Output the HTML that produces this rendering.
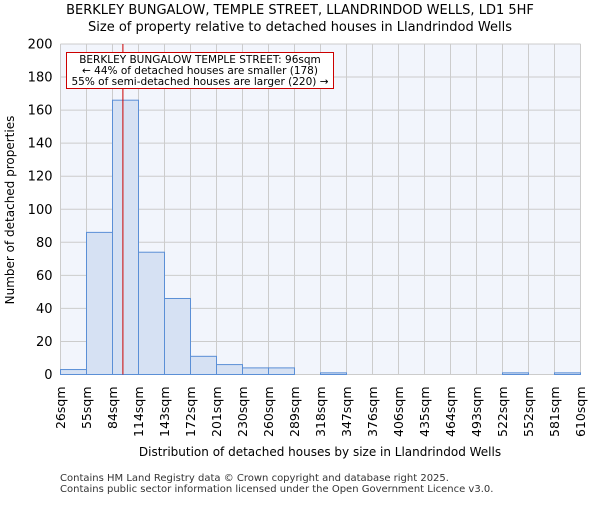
<!DOCTYPE html>
<html><head><meta charset="utf-8"><style>
body{margin:0;background:#fff;font-family:"Liberation Sans","DejaVu Sans",sans-serif}
svg text{font-family:"DejaVu Sans","Liberation Sans",sans-serif}
</style></head><body>
<svg id="c" width="600" height="500" xmlns="http://www.w3.org/2000/svg">
<text x="300" y="14" text-anchor="middle" font-size="13">BERKLEY BUNGALOW, TEMPLE STREET, LLANDRINDOD WELLS, LD1 5HF</text>
<text x="300" y="31" text-anchor="middle" font-size="13">Size of property relative to detached houses in Llandrindod Wells</text>
<rect x="60.5" y="44" width="520" height="330.5" fill="#f2f5fc"/>
<g id="grid"></g><g id="bars"></g><g id="axes"></g>
<text transform="translate(14,210) rotate(-90)" text-anchor="middle" font-size="12">Number of detached properties</text>
<text x="320" y="456" text-anchor="middle" font-size="12">Distribution of detached houses by size in Llandrindod Wells</text>
<text x="60" y="481" font-size="10" fill="#333">Contains HM Land Registry data © Crown copyright and database right 2025.</text>
<text x="60" y="492" font-size="10" fill="#333">Contains public sector information licensed under the Open Government Licence v3.0.</text>
</svg>
<script>
const tickLabels=["26sqm","55sqm","84sqm","114sqm","143sqm","172sqm","201sqm","230sqm","260sqm","289sqm","318sqm","347sqm","376sqm","406sqm","435sqm","464sqm","493sqm","522sqm","552sqm","581sqm","610sqm"];
const binEdges=[26,55,84,114,143,172,201,230,260,289,318,347,376,406,435,464,493,522,552,581,610];
const counts=[3,86,166,74,46,11,6,4,4,0,1,0,0,0,0,0,0,1,0,1];
const yTicks=[0,20,40,60,80,100,120,140,160,180,200];
const markerValue=96;
const NS="http://www.w3.org/2000/svg";
const X0=60.5,X1=580.5,Y0=374.5,Y1=44;
const nb=counts.length;
function xIdx(i){return X0+(X1-X0)*i/nb;}
function xVal(v){let i=0;while(i<binEdges.length-2&&v>binEdges[i+1])i++;return xIdx(i+(v-binEdges[i])/(binEdges[i+1]-binEdges[i]));}
function y(v){return Y0-(Y0-Y1)*v/200;}
function mk(t,a,p){const e=document.createElementNS(NS,t);for(const k in a)e.setAttribute(k,a[k]);p.appendChild(e);return e;}
const grid=document.getElementById('grid'),bars=document.getElementById('bars'),axes=document.getElementById('axes');
yTicks.forEach(v=>{
 const l=mk('line',{x1:X0,x2:X1,y1:y(v),y2:y(v),stroke:'#ccc','stroke-width':1},grid);
 
 
 const t=mk('text',{x:X0-8,y:y(v)+4.5,'text-anchor':'end','font-size':13},axes);
 t.textContent=v;
 
 
});
tickLabels.forEach((s,i)=>{
 const x=xIdx(i);
 const l=mk('line',{x1:x,x2:x,y1:Y1,y2:Y0,stroke:'#ccc','stroke-width':1},grid);
 
 
 const t=mk('text',{transform:`translate(${x+4.5},${Y0+12}) rotate(-90)`,'text-anchor':'end','font-size':12.5},axes);
 t.textContent=s;
 
 
});
counts.forEach((c,i)=>{
 if(c<=0)return;
 const r=mk('rect',{x:xIdx(i),y:y(c),width:xIdx(i+1)-xIdx(i),height:Y0-y(c),fill:'#d6e1f3',stroke:'#5b8fd6','stroke-width':1},bars);
 
 
});
const mx=xVal(markerValue);
const ml=mk('line',{x1:mx,x2:mx,y1:Y1,y2:Y0,stroke:'#cc0000','stroke-width':1},axes);


const box=mk('rect',{x:66.5,y:52.5,width:267,height:36,fill:'#fff',stroke:'#cc0000','stroke-width':1},axes);


["BERKLEY BUNGALOW TEMPLE STREET: 96sqm","← 44% of detached houses are smaller (178)","55% of semi-detached houses are larger (220) →"].forEach((s,i)=>{
 const t=mk('text',{x:200,y:63+i*11,'text-anchor':'middle','font-size':10.5},axes);
 t.textContent=s;
 
 
});
</script>
</body></html>
